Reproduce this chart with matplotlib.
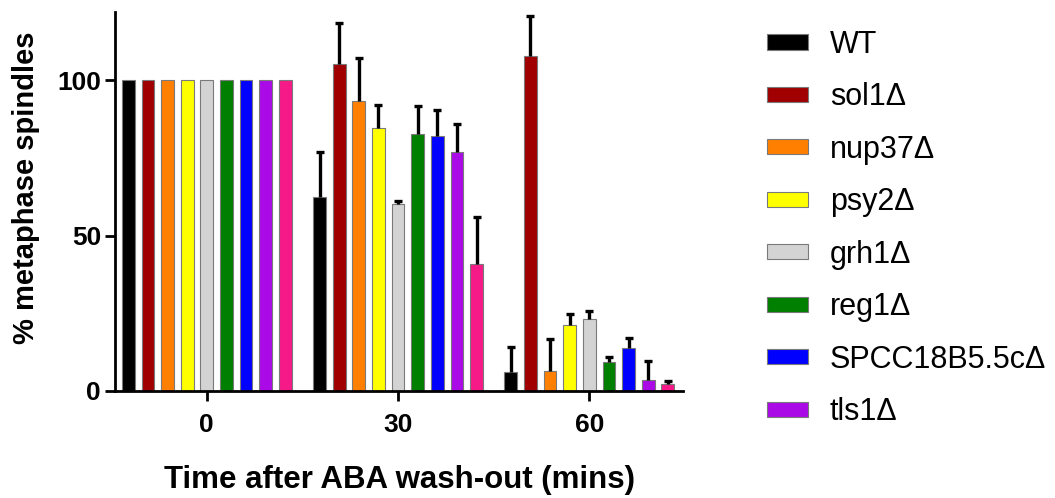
import numpy as np
import matplotlib
matplotlib.use("Agg")
import matplotlib.pyplot as plt

plt.rcParams['font.family'] = ['Liberation Sans', 'DejaVu Sans']

# data
time_labels = ["0", "30", "60"]
strains = ["WT", "sol1Δ", "nup37Δ", "psy2Δ", "grh1Δ", "reg1Δ",
           "SPCC18B5.5cΔ", "tls1Δ", "strain9Δ"]
colors = ["#000000", "#A00000", "#FF8000", "#FFFF00", "#D3D3D3",
          "#007F00", "#0000FF", "#AA0AE6", "#F51A88"]

wt = [100, 62.5, 6.0]
sol1 = [100, 105.1, 107.9]
nup37 = [100, 93.2, 6.5]
psy2 = [100, 84.5, 21.2]
grh1 = [100, 60.2, 23.2]
reg1 = [100, 82.8, 9.2]
spcc = [100, 82.2, 13.9]
tls1 = [100, 77.0, 3.5]
pink = [100, 41.0, 2.3]

wt_err = [0, 14.5, 8.0]
sol1_err = [0, 13.3, 12.8]
nup37_err = [0, 14.0, 10.2]
psy2_err = [0, 7.7, 3.5]
grh1_err = [0, 1.0, 2.5]
reg1_err = [0, 8.9, 1.6]
spcc_err = [0, 8.2, 3.3]
tls1_err = [0, 8.8, 6.1]
pink_err = [0, 15.0, 0.9]

means = [wt, sol1, nup37, psy2, grh1, reg1, spcc, tls1, pink]
errs = [wt_err, sol1_err, nup37_err, psy2_err, grh1_err, reg1_err,
        spcc_err, tls1_err, pink_err]

fig = plt.figure(figsize=(10.55, 4.98), dpi=100)
ax = fig.add_axes([0.109, 0.2149, 0.5384, 0.761])

group_x = np.arange(len(time_labels))
step = 0.1026
width = 0.067
bars = []
for i, (m, e) in enumerate(zip(means, errs)):
    xs = group_x + (i - 4) * step
    b = ax.bar(xs, m, width, color=colors[i], edgecolor='#7a7a7a',
               linewidth=0.8, zorder=2)
    bars.append(b)
    # only upward error bars, skip the ones with no error
    m = np.array(m)
    e = np.array(e)
    keep = e > 0
    eb = ax.errorbar(xs[keep], m[keep], yerr=[np.zeros(keep.sum()), e[keep]],
                     fmt='none', ecolor='black', elinewidth=2.4, capsize=2.6,
                     capthick=2.4, zorder=3)
    eb[1][0].set_visible(False)

ax.set_xlim(-0.48, 2.49)
ax.set_ylim(0, 122)
ax.set_yticks([0, 50, 100])
ax.set_xticks(group_x)
ax.set_xticklabels(time_labels)

for s in ['top', 'right']:
    ax.spines[s].set_visible(False)
for s in ['left', 'bottom']:
    ax.spines[s].set_linewidth(2)

ax.tick_params(axis='both', length=7, width=2, labelsize=19)
ax.tick_params(axis='x', pad=9)
ax.tick_params(axis='y', pad=3)
for lab in ax.get_xticklabels() + ax.get_yticklabels():
    lab.set_fontweight('bold')

ax.set_ylabel("% metaphase spindles", fontsize=21, fontweight='bold')
ax.yaxis.set_label_coords(-0.132, 0.536)
ax.set_xlabel("Time after ABA wash-out (mins)", fontsize=22.5, fontweight='bold',
              labelpad=20)

fig.legend(bars[:8], strains[:8], loc='upper left',
           bbox_to_anchor=(0.727, 0.94), frameon=False, fontsize=22,
           handlelength=1.34, handleheight=0.39, handletextpad=0.72,
           labelspacing=0.735, borderpad=0, borderaxespad=0)

fig.savefig("out.png", dpi=100)
